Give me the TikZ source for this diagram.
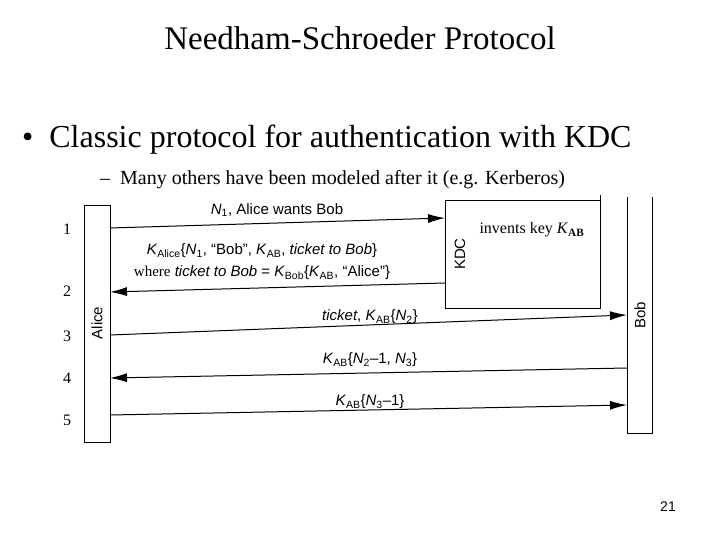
\documentclass[tikz,border=0pt]{standalone}
\usepackage{fontspec}
\setmainfont{Liberation Serif}
\newfontfamily\hv{Liberation Sans}
\usetikzlibrary{arrows.meta}
\newcommand{\sbs}[1]{\textsubscript{#1}}
\begin{document}
\begin{tikzpicture}[x=1pt,y=-1pt,>={Latex[length=17pt,width=9pt]},
  lbl/.style={font=\hv\fontsize{15}{17}\selectfont,inner sep=1pt},
  num/.style={font=\fontsize{16}{18}\selectfont},
  msg/.style={->,line width=1pt},
  pbox/.style={draw,line width=0.8pt}]
\useasboundingbox (0,0) rectangle (720,540);
\node (title) at (360,38) {\fontsize{33}{36}\selectfont Needham-Schroeder Protocol};
\node[anchor=west,inner sep=0pt] (b1) at (22,140) {\fontsize{32}{36}\selectfont \textbullet\ \ Classic protocol for authentication with KDC};
\node[anchor=west,inner sep=0pt] (b2) at (100,180) {\fontsize{20}{24}\selectfont --\ \ Many others have been modeled after it (e.g. Kerberos)};
\draw[pbox] (84,205) rectangle (110,442);
\node[lbl,rotate=90] (alice) at (97,323) {Alice};
\draw[pbox] (445,308) -- (445,200) -- (600,200);
\draw[pbox] (600,195) -- (600,308) -- (445,308);
\node[lbl,rotate=90] (kdc) at (460,254) {KDC};
\node[anchor=west] (inv) at (476,230) {\fontsize{16}{18}\selectfont invents key \textit{K}\sbs{\textbf{AB}}};
\draw[pbox] (627,197) -- (627,433) -- (652,433) -- (652,197);
\node[lbl,rotate=90] (bob) at (640,315) {Bob};
\coordinate (a1) at (110,228); \coordinate (k1) at (445,218);
\coordinate (k2) at (445,283); \coordinate (a2) at (110,292);
\coordinate (a3) at (110,335); \coordinate (b3) at (627,315);
\coordinate (b4) at (627,368); \coordinate (a4) at (110,378);
\coordinate (a5) at (110,415); \coordinate (b5) at (627,405);
\draw[msg] (a1) -- (k1);
\draw[msg] (k2) -- (a2);
\draw[msg] (a3) -- (b3);
\draw[msg] (b4) -- (a4);
\draw[msg] (a5) -- (b5);
\node[lbl] (m1) at (277,210) {\textit{N}\sbs{1}, Alice wants Bob};
\node[lbl] (m2a) at (262,251) {\textit{K}\sbs{Alice}\{\textit{N}\sbs{1}, “Bob”, \textit{K}\sbs{AB}, \textit{ticket to Bob}\}};
\node[lbl] (m2b) at (262,273) {{\rmfamily where} \textit{ticket to Bob} = \textit{K}\sbs{Bob}\{\textit{K}\sbs{AB}, “Alice”\}};
\node[lbl] (m3) at (370,317) {\textit{ticket}, \textit{K}\sbs{AB}\{\textit{N}\sbs{2}\}};
\node[lbl] (m4) at (370,360) {\textit{K}\sbs{AB}\{\textit{N}\sbs{2}–1, \textit{N}\sbs{3}\}};
\node[lbl] (m5) at (370,402) {\textit{K}\sbs{AB}\{\textit{N}\sbs{3}–1\}};
\node[num] (n1) at (67,229) {1};
\node[num] (n2) at (67,291) {2};
\node[num] (n3) at (67,336) {3};
\node[num] (n4) at (67,378) {4};
\node[num] (n5) at (67,420) {5};
\node (pg) at (668,507) {\hv\fontsize{14}{16}\selectfont 21};
\end{tikzpicture}
\end{document}
